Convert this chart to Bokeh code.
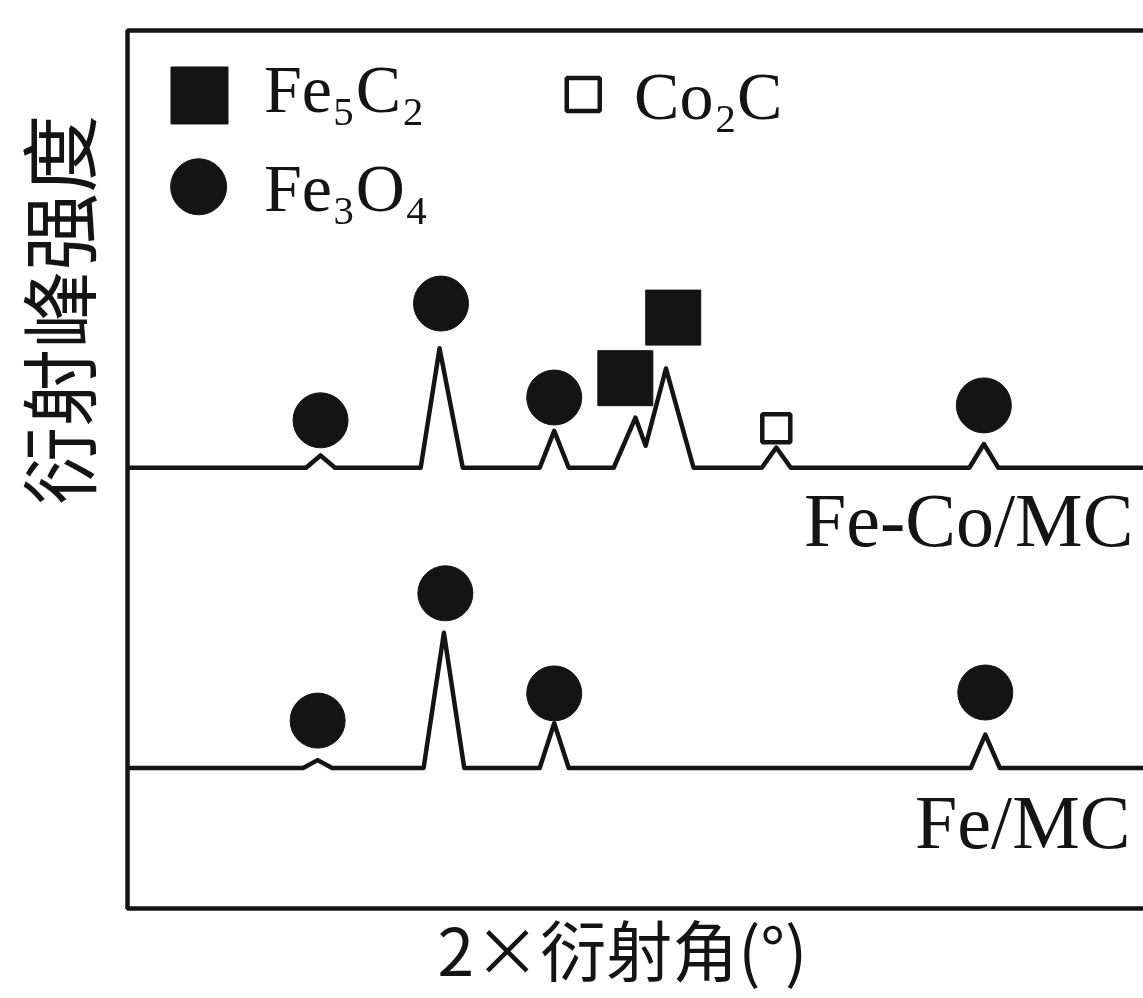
import math
from bokeh.plotting import figure
from bokeh.models import Range1d, Label, BoxAnnotation
from bokeh.core.properties import value
from bokeh.embed import file_html
from bokeh.resources import INLINE

# ---- data (schematic XRD patterns, 2θ in degrees, intensity in a.u.) ----
# Fe-Co/MC trace (upper), baseline offset
feco_base = 50.2
feco_x = [10, 22.3, 23.3, 24.3, 30.2, 31.5, 33.1, 38.4, 39.4, 40.4, 43.5, 45.0, 45.7, 47.1, 49.0,
          53.7, 54.7, 55.7, 68.0, 69.0, 70.0, 80]
feco_y = [0, 0, 1.4, 0, 0, 13.6, 0, 0, 4.2, 0, 0, 5.7, 2.5, 11.3, 0,
          0, 2.3, 0, 0, 2.7, 0, 0]

# Fe/MC trace (lower)
fe_base = 16.0
fe_x = [10, 22.1, 23.1, 24.1, 30.4, 31.8, 33.2, 38.4, 39.4, 40.4, 68.1, 69.1, 70.1, 80]
fe_y = [0, 0, 0.9, 0, 0, 15.4, 0, 0, 5.1, 0, 0, 3.8, 0, 0]

# phase markers above peaks
fe3o4_x = [23.3, 31.6, 39.4, 69.0, 23.1, 31.9, 39.4, 69.1]
fe3o4_y = [55.6, 68.9, 58.2, 57.3, 21.4, 35.9, 24.5, 24.6]
fe5c2_x = [44.3, 47.6]
fe5c2_y = [60.4, 67.3]
co2c_x = [54.7]
co2c_y = [54.7]

sample_labels = ["Fe-Co/MC", "Fe/MC"]
sample_label_x = [79.3, 79.1]
sample_label_y = [44.3, 9.9]

legend_labels = ["Fe₅C₂", "Fe₃O₄", "Co₂C"]

x_title = "2×衍射角(°)"
y_title = "衍射峰强度"

# plotted window: 2θ 10–80, intensity 0–100 (frame box); canvas extends beyond it
X0, X1, Y0, Y1 = 10, 80, 0, 100
W, H = 1143, 998
FRAME_L, FRAME_T, FRAME_B = 127, 30, 908
xs = (X1 - X0) / (W - FRAME_L)
ys = (Y1 - Y0) / (FRAME_B - FRAME_T)

INK = "#141414"

p = figure(width=W, height=H, output_backend="svg", toolbar_location=None,
           x_range=Range1d(X0 - FRAME_L * xs, X1),
           y_range=Range1d(Y0 - (H - FRAME_B) * ys, Y1 + FRAME_T * ys),
           min_border_left=0, min_border_right=0, min_border_top=0, min_border_bottom=0)
p.outline_line_color = None
p.grid.visible = False
p.axis.visible = False
p.background_fill_color = "white"
p.border_fill_color = "white"

# plot box (left, top, bottom edges; right edge lies beyond the picture as in the original)
p.add_layout(BoxAnnotation(left=X0, right=X1 + 2, bottom=Y0, top=Y1, fill_color=None,
                           fill_alpha=0, line_color=INK, line_alpha=1.0, line_width=4.5))

# axis titles
p.add_layout(Label(x=44.1, y=-4.35, text=x_title, text_align="center", text_baseline="middle",
                   text_font="Noto Sans CJK SC", text_font_size="66px", text_color=INK))
p.add_layout(Label(x=5.05, y=68.2, text=y_title, angle=math.pi / 2,
                   text_align="center", text_baseline="middle",
                   text_font="Noto Sans CJK SC", text_font_size="78px", text_color=INK))

# traces
p.line(feco_x, [feco_base + y for y in feco_y], line_color=INK, line_width=4.5, line_join="round")
p.line(fe_x, [fe_base + y for y in fe_y], line_color=INK, line_width=4.5, line_join="round")

# phase markers
p.scatter(fe3o4_x, fe3o4_y, marker="circle", size=55, fill_color=INK, line_color=INK)
p.scatter(fe5c2_x, fe5c2_y, marker="square", size=55, fill_color=INK, line_color=INK)
p.scatter(co2c_x, co2c_y, marker="square", size=28, fill_color="white", line_color=INK,
          line_width=4.5)

# legend (drawn as in the original, inside the frame)
p.scatter([14.96], [92.6], marker="square", size=57, fill_color=INK, line_color=INK)
p.scatter([14.9], [82.2], marker="circle", size=56, fill_color=INK, line_color=INK)
p.scatter([41.4], [92.7], marker="square", size=33, fill_color="white", line_color=INK,
          line_width=4.5)
p.text([19.4, 19.4, 44.9], [93.3, 82.1, 92.5], text=legend_labels,
       text_font=value("Liberation Serif"), text_font_size="68px", text_color=INK,
       text_baseline="alphabetic", text_align="left")

# sample labels
p.text(sample_label_x, sample_label_y, text=sample_labels,
       text_font=value("Liberation Serif"), text_font_size="76px", text_color=INK,
       text_baseline="alphabetic", text_align="right")

open("out.html", "w").write(file_html(p, INLINE))
